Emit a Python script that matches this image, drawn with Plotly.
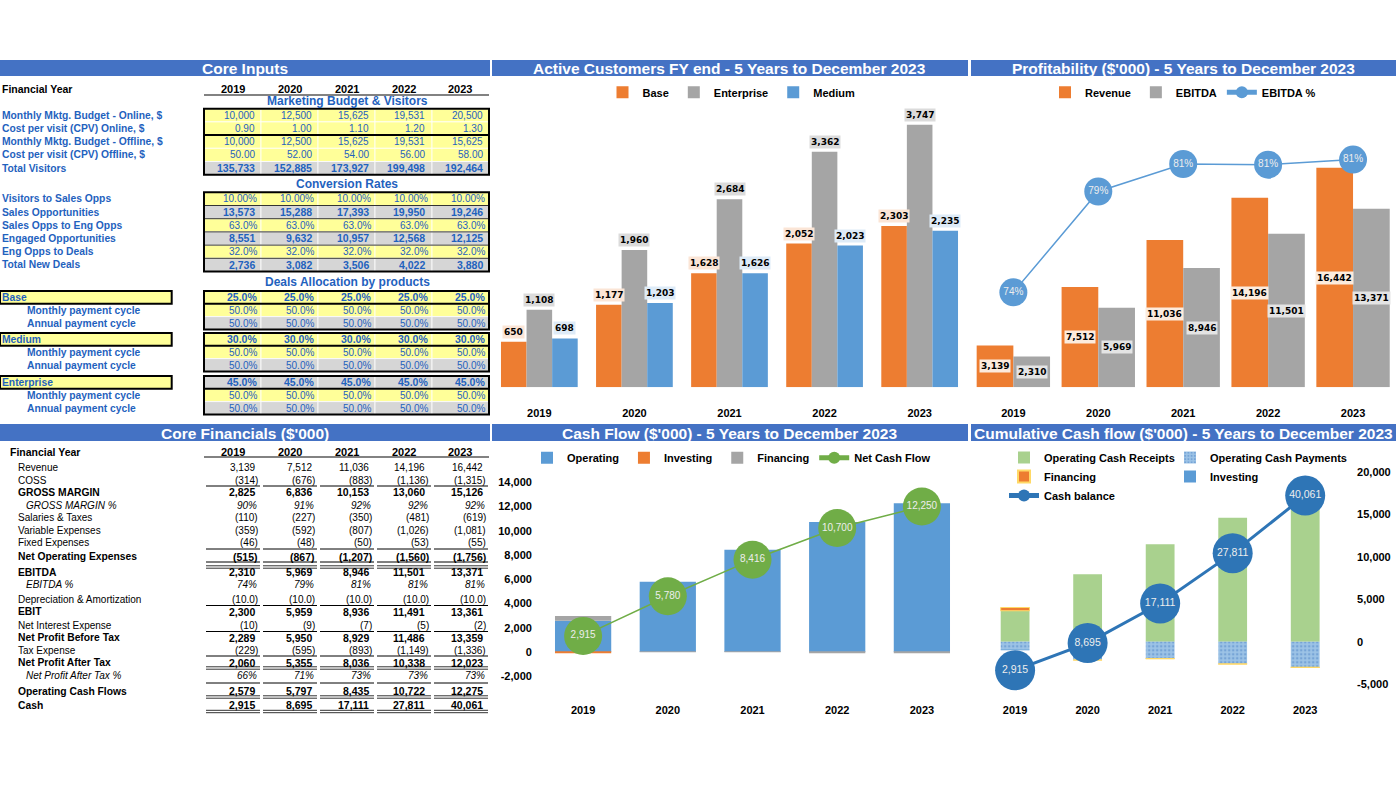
import plotly.graph_objects as go

W, H = 1396, 786
def X(px): return px / W
def Y(py): return 1 - py / H

years = ["2019", "2020", "2021", "2022", "2023"]

# ---------------- Core Inputs data ----------------
mktg_online = [10000, 12500, 15625, 19531, 20500]
cpv_online = [0.90, 1.00, 1.10, 1.20, 1.30]
mktg_offline = [10000, 12500, 15625, 19531, 15625]
cpv_offline = [50.00, 52.00, 54.00, 56.00, 58.00]
total_visitors = [135733, 152885, 173927, 199498, 192464]
visitors_to_opps = [0.10, 0.10, 0.10, 0.10, 0.10]
sales_opps = [13573, 15288, 17393, 19950, 19246]
opps_to_eng = [0.63, 0.63, 0.63, 0.63, 0.63]
engaged_opps = [8551, 9632, 10957, 12568, 12125]
eng_to_deals = [0.32, 0.32, 0.32, 0.32, 0.32]
total_new_deals = [2736, 3082, 3506, 4022, 3880]
alloc_base = [0.25, 0.25, 0.25, 0.25, 0.25]
alloc_medium = [0.30, 0.30, 0.30, 0.30, 0.30]
alloc_enterprise = [0.45, 0.45, 0.45, 0.45, 0.45]
monthly_cycle = [0.50, 0.50, 0.50, 0.50, 0.50]
annual_cycle = [0.50, 0.50, 0.50, 0.50, 0.50]

# ---------------- Core Financials data ----------------
revenue = [3139, 7512, 11036, 14196, 16442]
coss = [-314, -676, -883, -1136, -1315]
gross_margin = [2825, 6836, 10153, 13060, 15126]
gross_margin_pct = [0.90, 0.91, 0.92, 0.92, 0.92]
salaries = [-110, -227, -350, -481, -619]
variable_exp = [-359, -592, -807, -1026, -1081]
fixed_exp = [-46, -48, -50, -53, -55]
net_opex = [-515, -867, -1207, -1560, -1756]
ebitda = [2310, 5969, 8946, 11501, 13371]
ebitda_pct = [0.7359, 0.7946, 0.8106, 0.8102, 0.8132]
dep_amort = [-10.0, -10.0, -10.0, -10.0, -10.0]
ebit = [2300, 5959, 8936, 11491, 13361]
net_interest = [-10, -9, -7, -5, -2]
npbt = [2289, 5950, 8929, 11486, 13359]
tax_expense = [-229, -595, -893, -1149, -1336]
npat = [2060, 5355, 8036, 10338, 12023]
npat_pct = [0.66, 0.71, 0.73, 0.73, 0.73]
op_cash_flows = [2579, 5797, 8435, 10722, 12275]
cash = [2915, 8695, 17111, 27811, 40061]

# ---------------- Chart data ----------------
cust_base = [650, 1177, 1628, 2052, 2303]
cust_enterprise = [1108, 1960, 2684, 3362, 3747]
cust_medium = [698, 1203, 1626, 2023, 2235]

cf_operating = [2579, 5797, 8435, 10722, 12275]
cf_investing = [-50, 0, 0, 0, 0]
cf_financing = [386, -17, -19, -22, -25]
net_cash_flow = [2915, 5780, 8416, 10700, 12250]

cum_receipts = [3647, 7961, 11490, 14627, 16800]
cum_payments = [-902, -2160, -2000, -2627, -3020]
cum_financing = [386, -17, -19, -22, -25]
cum_investing = [-50, 0, 0, 0, 0]
cash_balance = [2915, 8695, 17111, 27811, 40061]

cf_ticks = [-2000, 0, 2000, 4000, 6000, 8000, 10000, 12000, 14000]
cf_ticktext = ["-2,000", "0", "2,000", "4,000", "6,000", "8,000", "10,000", "12,000", "14,000"]
cum_ticks = [-5000, 0, 5000, 10000, 15000, 20000]
cum_ticktext = ["-5,000", "0", "5,000", "10,000", "15,000", "20,000"]

# ---------------- styling ----------------
TF = "Liberation Sans, Arial, sans-serif"
LF = "DejaVu Sans, Verdana, sans-serif"
BLUE_T = "#1F62BE"
YEL = "#FFFF99"
GRY = "#D6D6D6"
TITLE_BG = "#4472C4"
ORANGE = "#ED7D31"
GRAY = "#A5A5A5"
LBLUE = "#5B9BD5"
GREEN = "#70AD47"
DBLUE = "#2E75B6"
LGREEN = "#A9D18E"

annotations = []
shapes = []

def txt(x, y, s, size=10, color="black", bold=False, italic=False, xanchor="left", family=TF):
    annotations.append(dict(
        x=X(x), y=Y(y), xref="paper", yref="paper", text=s, showarrow=False,
        xanchor=xanchor, yanchor="middle", borderpad=0,
        font=dict(size=size, color=color, family=family,
                  weight="bold" if bold else "normal",
                  style="italic" if italic else "normal")))

def rect(x0, y0, x1, y1, fill=None, lc=None, lw=0):
    shapes.append(dict(type="rect", xref="paper", yref="paper",
                       x0=X(x0), x1=X(x1), y0=Y(y1), y1=Y(y0),
                       fillcolor=fill or "rgba(0,0,0,0)",
                       line=dict(color=lc or "rgba(0,0,0,0)", width=lw), layer="below"))

def hline(x0, x1, y, color="black", width=1):
    shapes.append(dict(type="line", xref="paper", yref="paper",
                       x0=X(x0), x1=X(x1), y0=Y(y), y1=Y(y),
                       line=dict(color=color, width=width), layer="below"))

def fmt(v, f):
    if f == "int":
        return f"{v:,.0f}"
    if f == "dec2":
        return f"{v:,.2f}"
    if f == "pct2":
        return f"{v*100:.2f}%"
    if f == "pct1":
        return f"{v*100:.1f}%"
    if f == "pct0":
        return f"{v*100:.0f}%"
    if f == "acct":
        return f"({abs(v):,.0f})" if v < 0 else f"{v:,.0f}"
    if f == "acct1":
        return f"({abs(v):,.1f})" if v < 0 else f"{v:,.1f}"
    return str(v)

def title_bar(x0, x1, y0, y1, s):
    rect(x0, y0, x1, y1, fill=TITLE_BG)
    txt((x0 + x1) / 2, (y0 + y1) / 2 + 0.5, s, size=15.5, color="white", bold=True, xanchor="center")

# ---------------- Title bars ----------------
title_bar(0, 490, 60, 76, "Core Inputs")
title_bar(492, 968, 60, 76, "Active Customers FY end - 5 Years to December 2023")
title_bar(971, 1396, 60, 76, "Profitability ($'000) - 5 Years to December 2023")
title_bar(0, 490, 424, 441, "Core Financials ($'000)")
title_bar(492, 968, 424, 441, "Cash Flow ($'000) - 5 Years to December 2023")
title_bar(971, 1396, 424, 441, "Cumulative Cash flow ($'000) - 5 Years to December 2023")

# ---------------- Core Inputs table ----------------
col_left = [204 + 57 * i for i in range(5)]
col_w = 57

txt(1, 88.7, "Financial Year", size=10.5, bold=True)
for i, yr in enumerate(years):
    txt(col_left[i] + col_w / 2, 88.7, yr, size=11, bold=True, xanchor="center")
hline(204, 489, 95, color="#595959", width=1.5)

def ci_group(top, rh, rows, box=True, sep_after=None, thin_sep=False):
    for k, (label, vals, f, bold, fill, indent) in enumerate(rows):
        y0 = top + k * rh
        yc = y0 + rh / 2
        for i in range(5):
            rect(col_left[i], y0, col_left[i] + col_w, y0 + rh,
                 fill=YEL if fill == "y" else GRY, lc="white", lw=0.8)
            xr = col_left[i] + col_w - (3 if "pct" in f else 5.5)
            txt(xr, yc, fmt(vals[i], f), size=10.5 if bold else 10, color=BLUE_T,
                bold=bold, xanchor="right")
        if label:
            txt(indent, yc, label, size=10.3, color=BLUE_T, bold=True)
        if thin_sep and k > 0:
            hline(204, 489, y0, color="#333333", width=1)
    bottom = top + rh * len(rows)
    if sep_after is not None:
        hline(204, 489, top + rh * sep_after, color="black", width=2)
    if box:
        rect(204, top, 489, bottom, lc="black", lw=2)

txt(347, 101, "Marketing Budget & Visitors", size=12, color=BLUE_T, bold=True, xanchor="center")
ci_group(108.7, 13.2, [
    ("Monthly Mktg. Budget - Online, $", mktg_online, "int", False, "y", 1),
    ("Cost per visit (CPV) Online, $", cpv_online, "dec2", False, "y", 1),
    ("Monthly Mktg. Budget - Offline, $", mktg_offline, "int", False, "y", 1),
    ("Cost per visit (CPV) Offline, $", cpv_offline, "dec2", False, "y", 1),
    ("Total Visitors", total_visitors, "int", True, "g", 1),
], sep_after=2)

txt(347, 184, "Conversion Rates", size=12, color=BLUE_T, bold=True, xanchor="center")
ci_group(192.3, 13.2, [
    ("Visitors to Sales Opps", visitors_to_opps, "pct2", False, "y", 1),
    ("Sales Opportunities", sales_opps, "int", True, "g", 1),
    ("Sales Opps to Eng Opps", opps_to_eng, "pct1", False, "y", 1),
    ("Engaged Opportunities", engaged_opps, "int", True, "g", 1),
    ("Eng Opps to Deals", eng_to_deals, "pct1", False, "y", 1),
    ("Total New Deals", total_new_deals, "int", True, "g", 1),
], thin_sep=True)

txt(347, 281.7, "Deals Allocation by products", size=12, color=BLUE_T, bold=True, xanchor="center")
for top, name, alloc, fill in [(291, "Base", alloc_base, "y"),
                               (333, "Medium", alloc_medium, "y"),
                               (376, "Enterprise", alloc_enterprise, "g")]:
    rect(0, top, 171.7, top + 12.8, fill=YEL, lc="black", lw=2)
    ci_group(top, 12.8, [
        ("", alloc, "pct1", True, fill, 1),
        ("Monthly payment cycle", monthly_cycle, "pct1", False, "y", 26),
        ("Annual payment cycle", annual_cycle, "pct1", False, "g", 26),
    ], sep_after=1)
    txt(1, top + 6.4, name, size=10.3, color=BLUE_T, bold=True)

# ---------------- Core Financials table ----------------
txt(9, 452, "Financial Year", size=10.5, bold=True)
for i, yr in enumerate(years):
    txt(col_left[i] + col_w / 2, 452, yr, size=11, bold=True, xanchor="center")
hline(204, 489, 457, color="#595959", width=1.5)

fin_rows = [
    ("Revenue", revenue, "acct", False, False, 17, 467.7),
    ("COSS", coss, "acct", False, False, 17, 480),
    ("GROSS MARGIN", gross_margin, "acct", True, False, 17, 492.3),
    ("GROSS MARGIN %", gross_margin_pct, "pct0", False, True, 25, 505),
    ("Salaries & Taxes", salaries, "acct", False, False, 17, 517.3),
    ("Variable Expenses", variable_exp, "acct", False, False, 17, 530),
    ("Fixed Expenses", fixed_exp, "acct", False, False, 17, 542.3),
    ("Net Operating Expenses", net_opex, "acct", True, False, 17, 556.7),
    ("EBITDA", ebitda, "acct", True, False, 17, 572),
    ("EBITDA %", ebitda_pct, "pct0", False, True, 25, 584.3),
    ("Depreciation & Amortization", dep_amort, "acct1", False, False, 17, 599),
    ("EBIT", ebit, "acct", True, False, 17, 611.7),
    ("Net Interest Expense", net_interest, "acct", False, False, 17, 625),
    ("Net Profit Before Tax", npbt, "acct", True, False, 17, 637.7),
    ("Tax Expense", tax_expense, "acct", False, False, 17, 650),
    ("Net Profit After Tax", npat, "acct", True, False, 17, 662.7),
    ("Net Profit After Tax %", npat_pct, "pct0", False, True, 25, 675.7),
    ("Operating Cash Flows", op_cash_flows, "acct", True, False, 17, 691),
    ("Cash", cash, "acct", True, False, 17, 705),
]
for label, vals, f, bold, italic, indent, yc in fin_rows:
    txt(indent, yc, label, size=10.3 if bold else 10, bold=bold, italic=italic)
    for i in range(5):
        s = fmt(vals[i], f)
        right = col_left[i] + col_w
        if s.startswith("("):
            xr = right - 2
        elif f == "pct0":
            xr = right - 3.5
        else:
            xr = right - 5.5
        txt(xr, yc, s, size=10.5 if bold else 10, bold=bold, italic=italic, xanchor="right")

for yl in [486, 549, 562, 605.5, 631.5, 656, 683]:
    for i in range(5):
        hline(col_left[i] + 2, col_left[i] + col_w - 1, yl, color="black", width=1)
for yl in [567, 668, 697, 711.5]:
    for i in range(5):
        hline(col_left[i] + 2, col_left[i] + col_w - 1, yl - 1.2, color="#333333", width=1)
        hline(col_left[i] + 2, col_left[i] + col_w - 1, yl + 1.2, color="#333333", width=1)

# ---------------- Charts ----------------
fig = go.Figure()
LAB = dict(family=LF, size=9, color="black", weight="bold")

# Chart 1: Active customers
bw1 = 0.269
for name, vals, color, off, bg in [("Base", cust_base, ORANGE, -0.4035, "#FBE5D6"),
                                   ("Enterprise", cust_enterprise, GRAY, -0.1345, "#DBDBDB"),
                                   ("Medium", cust_medium, LBLUE, 0.1345, "#DEEBF7")]:
    fig.add_trace(go.Bar(x=years, y=vals, name=name, marker=dict(color=color, line=dict(width=0)),
                         width=bw1, offset=off, xaxis="x", yaxis="y", legend="legend"))
    for i, v in enumerate(vals):
        annotations.append(dict(x=i + off + bw1 / 2, y=v, xref="x", yref="y", text=f"{v:,.0f}",
                                showarrow=False, yanchor="bottom", yshift=3, bgcolor=bg,
                                borderpad=1, font=LAB))

# Chart 2: Profitability
bw2 = 0.432
for name, vals, color, off, bg in [("Revenue", revenue, ORANGE, -0.432, "#FCEBDD"),
                                   ("EBITDA", ebitda, GRAY, 0.0, "#E4E4E4")]:
    fig.add_trace(go.Bar(x=years, y=vals, name=name, marker=dict(color=color, line=dict(width=0)),
                         width=bw2, offset=off, xaxis="x2", yaxis="y2", legend="legend2"))
    for i, v in enumerate(vals):
        annotations.append(dict(x=i + off + bw2 / 2, y=v / 2, xref="x2", yref="y2", text=f"{v:,.0f}",
                                showarrow=False, yanchor="middle", bgcolor=bg,
                                borderpad=1, font=LAB))
fig.add_trace(go.Scatter(x=years, y=ebitda_pct, name="EBITDA %", mode="lines+markers+text",
                         texttemplate="%{y:.0%}", textposition="middle center",
                         textfont=dict(family=TF, size=10, color="#EDEDED"),
                         line=dict(color=LBLUE, width=1.5),
                         marker=dict(size=28, color=LBLUE, line=dict(width=0)),
                         cliponaxis=False, xaxis="x2", yaxis="y3", legend="legend2"))

# Chart 3: Cash Flow (stacked)
pos = [0.0] * 5
neg = [0.0] * 5
bw3 = 0.664
for name, vals, color in [("Operating", cf_operating, LBLUE),
                          ("Investing", cf_investing, ORANGE),
                          ("Financing", cf_financing, GRAY)]:
    bases = []
    for i, v in enumerate(vals):
        if v >= 0:
            bases.append(pos[i]); pos[i] += v
        else:
            bases.append(neg[i]); neg[i] += v
    fig.add_trace(go.Bar(x=years, y=vals, base=bases, name=name,
                         marker=dict(color=color, line=dict(width=0)),
                         width=bw3, offset=-bw3 / 2, xaxis="x3", yaxis="y4", legend="legend3"))
fig.add_trace(go.Scatter(x=years, y=net_cash_flow, name="Net Cash Flow", mode="lines+markers+text",
                         texttemplate="%{y:,.0f}", textposition="middle center",
                         textfont=dict(family=TF, size=10, color="#EDEDED"),
                         line=dict(color=GREEN, width=1.5),
                         marker=dict(size=38, color=GREEN, line=dict(width=0)),
                         cliponaxis=False, xaxis="x3", yaxis="y5", legend="legend3"))

# Chart 4: Cumulative cash flow (stacked)
pos = [0.0] * 5
neg = [0.0] * 5
bw4 = 0.397
series4 = [
    ("Operating Cash Receipts", cum_receipts, dict(color=LGREEN, line=dict(width=0)), "legend4"),
    ("Operating Cash Payments", cum_payments,
     dict(color="#9DC3E6", line=dict(width=0),
          pattern=dict(shape=".", fgcolor="#4F86C6", bgcolor="#9DC3E6", size=4, solidity=0.35)), "legend5"),
    ("Financing", cum_financing, dict(color=ORANGE, line=dict(color="#FFD966", width=1)), "legend4"),
    ("Investing", cum_investing, dict(color=LBLUE, line=dict(width=0)), "legend5"),
]
for name, vals, mk, lg in series4:
    bases = []
    for i, v in enumerate(vals):
        if v >= 0:
            bases.append(pos[i]); pos[i] += v
        else:
            bases.append(neg[i]); neg[i] += v
    fig.add_trace(go.Bar(x=years, y=vals, base=bases, name=name, marker=mk,
                         width=bw4, offset=-bw4 / 2, xaxis="x4", yaxis="y6", legend=lg))
fig.add_trace(go.Scatter(x=years, y=cash_balance, name="Cash balance", mode="lines+markers+text",
                         texttemplate="%{y:,.0f}", textposition="middle center",
                         textfont=dict(family=TF, size=10.5, color="#EDEDED"),
                         line=dict(color=DBLUE, width=3),
                         marker=dict(size=40, color=DBLUE, line=dict(width=0)),
                         cliponaxis=False, xaxis="x4", yaxis="y7", legend="legend4"))

AX = dict(family=TF, size=11, color="black", weight="bold")
xcommon = dict(type="category", showgrid=False, zeroline=False, showline=False, ticks="",
               tickfont=AX, fixedrange=True, automargin=False)
hidden_y = dict(visible=False, showgrid=False, zeroline=False, fixedrange=True)

LEG = dict(family=TF, size=11, color="black", weight="bold")
def hleg(xc, yc):
    return dict(orientation="h", x=X(xc), y=Y(yc), xanchor="center", yanchor="middle",
                font=LEG, bgcolor="rgba(0,0,0,0)", itemsizing="constant", itemwidth=30,
                itemclick=False, itemdoubleclick=False)
def vleg(xl, yt):
    return dict(orientation="v", x=X(xl), y=Y(yt), xanchor="left", yanchor="top",
                font=LEG, bgcolor="rgba(0,0,0,0)", itemsizing="constant", tracegroupgap=0,
                itemwidth=30, itemclick=False, itemdoubleclick=False)

fig.update_layout(
    width=W, height=H, margin=dict(l=0, r=0, t=0, b=0, pad=0, autoexpand=False),
    paper_bgcolor="white", plot_bgcolor="rgba(0,0,0,0)",
    barmode="overlay", showlegend=True,
    xaxis=dict(xcommon, domain=[X(491.8), X(967.2)], anchor="y", ticklabelstandoff=18),
    yaxis=dict(hidden_y, domain=[Y(387.3), Y(107)], range=[0, 4000], anchor="x"),
    xaxis2=dict(xcommon, domain=[X(970.9), X(1395.5)], anchor="y2", ticklabelstandoff=18),
    yaxis2=dict(hidden_y, domain=[Y(387.3), Y(107)], range=[0, 21000], anchor="x2"),
    yaxis3=dict(hidden_y, overlaying="y2", range=[0.6806, 0.8438], anchor="x2"),
    xaxis3=dict(xcommon, domain=[X(537.9), X(967.1)], anchor="y4", ticklabelstandoff=26),
    yaxis4=dict(domain=[Y(676.3), Y(482.3)], range=[-2000, 14000], anchor="x3",
                showgrid=False, zeroline=False, showline=False, ticks="",
                tickvals=cf_ticks, ticktext=cf_ticktext, tickfont=AX, automargin=False,
                ticklabelstandoff=5, fixedrange=True),
    yaxis5=dict(hidden_y, overlaying="y4", range=[0, 14000], anchor="x3"),
    xaxis4=dict(xcommon, domain=[X(971.2), X(1349.1)], anchor="y6", ticklabelstandoff=18),
    yaxis6=dict(domain=[Y(684), Y(472.3)], range=[-5000, 20000], anchor="x4", side="right",
                showgrid=False, zeroline=False, showline=False, ticks="",
                tickvals=cum_ticks, ticktext=cum_ticktext, tickfont=AX, automargin=False,
                ticklabelstandoff=7, fixedrange=True),
    yaxis7=dict(hidden_y, overlaying="y6", range=[0, 45000], anchor="x4"),
    legend=hleg(731.5, 92.3),
    legend2=hleg(1183, 92.3),
    legend3=hleg(731.5, 457.7),
    legend4=vleg(1004, 443),
    legend5=vleg(1170, 443),
    annotations=annotations,
    shapes=shapes,
)

fig.write_html("out.html", config={"displayModeBar": False},
               post_script="document.body.style.margin='0px';document.body.style.overflow='hidden';")
